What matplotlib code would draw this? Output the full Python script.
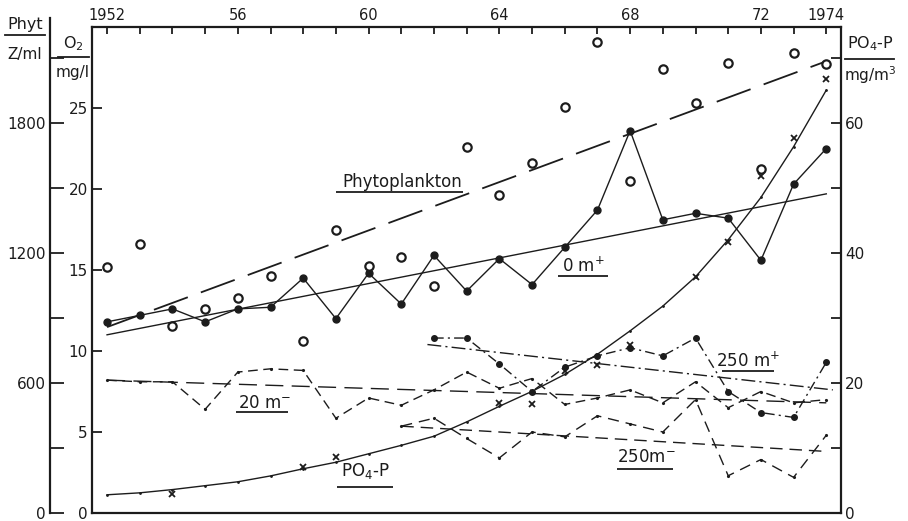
import numpy as np
import matplotlib.pyplot as plt
from matplotlib.lines import Line2D

plt.rcParams['font.family'] = ['DejaVu Sans']
plt.rcParams['mathtext.fontset'] = 'dejavusans'
plt.rcParams['mathtext.default'] = 'regular'
plt.rcParams['lines.scale_dashes'] = False

INK = '#1c1c1c'
W, H = 908, 521

# values
years = list(range(1952, 1975))

# phytoplankton, Z/ml (open circles + dashed trend)
phyt = [1135, 1241, 863, 942, 992, 1094, 794, 1306, 1140, 1182, 1048, 1689,
        1468, 1615, 1874, 2174, 1532, 2049, 1892, 2077, 1588, 2123, 2072]
phyt_trend_years = [1952, 1974]
phyt_trend = [858, 2085]

# O2 at 0 m, mg/l
o2_0m = [11.8, 12.2, 12.6, 11.8, 12.6, 12.7, 14.5, 12.0, 14.8, 12.9, 15.9, 13.7,
         15.7, 14.1, 16.4, 18.7, 23.6, 18.1, 18.5, 18.2, 15.6, 20.3, 22.5]
o2_0m_trend_years = [1952, 1974]
o2_0m_trend = [11.0, 19.7]

# O2 at 20 m
o2_20m = [8.2, 8.1, 8.1, 6.4, 8.7, 8.9, 8.8, 5.85, 7.1, 6.65, 7.6, 8.7,
          7.7, 8.3, 6.7, 7.1, 7.6, 6.8, 8.1, 6.5, 7.5, 6.8, 7.0]
o2_20m_trend_years = [1952, 1974]
o2_20m_trend = [8.2, 6.8]

# O2 at 250 m (minus)
years_250m_minus = list(range(1961, 1975))
o2_250m_minus = [5.36, 5.85, 4.6, 3.4, 5.0, 4.7, 6.0, 5.5, 5.0, 7.0, 2.3, 3.3, 2.2, 4.8]
o2_250m_minus_trend_years = [1961, 1974]
o2_250m_minus_trend = [5.36, 3.8]

# O2 at 250 m (plus)
years_250m_plus = list(range(1962, 1975))
o2_250m_plus = [10.8, 10.8, 9.2, 7.5, 9.0, 9.7, 10.2, 9.7, 10.8, 7.5, 6.2, 5.9, 9.3]
o2_250m_plus_trend_years = [1961.8, 1974.2]
o2_250m_plus_trend = [10.4, 7.6]

# PO4-P, mg/m3 (crosses + smooth curve)
po4_years = [1954, 1958, 1959, 1964, 1965, 1966, 1967, 1968, 1970, 1971, 1972, 1973, 1974]
po4 = [2.9, 7.1, 8.6, 16.9, 16.7, 21.9, 22.8, 25.8, 36.3, 41.7, 51.8, 57.7, 66.7]
po4_curve = [2.8, 3.1, 3.6, 4.2, 4.8, 5.7, 6.8, 7.8, 9.1, 10.4, 11.8, 14.0,
             16.4, 18.7, 21.3, 24.4, 28.0, 31.8, 36.3, 42.0, 48.5, 56.3, 65.0]

top_labels = {1952: '1952', 1956: '56', 1960: '60', 1964: '64',
              1968: '68', 1972: '72', 1974: '1974'}
o2_ticks = [0, 5, 10, 15, 20, 25]
phyt_ticks = [0, 300, 600, 900, 1200, 1500, 1800, 2100]
phyt_labels = ['0', '', '600', '', '1200', '', '1800', '']
po4_ticks = [0, 10, 20, 30, 40, 50, 60, 70]
po4_labels = ['0', '', '20', '', '40', '', '60', '']


def px(x, y):
    return x / W, 1 - y / H


fig = plt.figure(figsize=(W / 100, H / 100), dpi=100)
fig.patch.set_facecolor('white')
ax = fig.add_axes([92 / W, 8 / H, 749 / W, 486 / H])
ax.set_xlim(1951.54, 1974.45)
ax.set_ylim(0, 30)

ax_po4 = ax.twinx()
ax_po4.set_ylim(0, 74.7)
ax_ph = ax.twinx()
ax_ph.set_ylim(0, 2243)

for a in (ax, ax_po4, ax_ph):
    for s in a.spines.values():
        s.set_linewidth(1.6)
        s.set_color(INK)

# top year axis
ax.xaxis.tick_top()
ax.set_xticks(years)
ax.set_xticklabels([top_labels.get(y, '') for y in years])
ax.tick_params(axis='x', direction='in', length=5, width=1.3, pad=3,
               labelsize=10.5, colors=INK)

# O2 axis
ax.set_yticks(o2_ticks)
ax.tick_params(axis='y', direction='in', length=7, width=1.3, pad=3,
               labelsize=11, colors=INK)
ax.spines['right'].set_visible(False)

# PO4 axis on the right
ax_po4.set_yticks(po4_ticks)
ax_po4.set_yticklabels(po4_labels)
ax_po4.tick_params(axis='y', direction='in', length=7, width=1.3, pad=3,
                   labelsize=11, colors=INK)
for s in ('left', 'top', 'bottom'):
    ax_po4.spines[s].set_visible(False)

# Phyt axis, detached on the far left
ax_ph.yaxis.tick_left()
ax_ph.spines['left'].set_position(('outward', 42 * 0.72))
ax_ph.spines['left'].set_bounds(0, 2285)
for s in ('right', 'top', 'bottom'):
    ax_ph.spines[s].set_visible(False)
ax_ph.set_yticks(phyt_ticks)
ax_ph.set_yticklabels(phyt_labels)
ax_ph.tick_params(axis='y', direction='in', length=10, width=1.3, pad=3,
                  labelsize=11, colors=INK)

lw = 1.0
# phytoplankton
ax_ph.plot(phyt_trend_years, phyt_trend, color=INK, lw=1.3, dashes=(26, 10))
ax_ph.plot(years, phyt, ls='none', marker='o', ms=6, mfc='white', mec=INK, mew=1.6)

# O2 0 m
ax.plot(o2_0m_trend_years, o2_0m_trend, color=INK, lw=lw)
ax.plot(years, o2_0m, color=INK, lw=lw, marker='o', ms=5, mfc=INK, mec=INK)

# O2 20 m
ax.plot(o2_20m_trend_years, o2_20m_trend, color=INK, lw=lw, dashes=(13, 6))
ax.plot(years, o2_20m, color=INK, lw=lw, dashes=(7, 4), marker='.', ms=2.5)

# O2 250 m minus
ax.plot(o2_250m_minus_trend_years, o2_250m_minus_trend, color=INK, lw=lw, dashes=(9, 5))
ax.plot(years_250m_minus, o2_250m_minus, color=INK, lw=lw, dashes=(8, 5), marker='.', ms=2.5)

# O2 250 m plus
ax.plot(o2_250m_plus_trend_years, o2_250m_plus_trend, color=INK, lw=lw, dashes=(10, 3, 1.5, 3))
ax.plot(years_250m_plus, o2_250m_plus, color=INK, lw=lw, dashes=(7, 3, 1.5, 3),
        marker='o', ms=4, mfc=INK, mec=INK)

# PO4-P
ax_po4.plot(years, po4_curve, color=INK, lw=lw, marker='.', ms=2)
ax_po4.plot(po4_years, po4, ls='none', marker='x', ms=5, mew=1.3, color=INK)


def underlined(text, x, y, x0, x1, yl, size=12):
    ax.text(x, y, text, ha='center', va='center', fontsize=size, color=INK)
    ax.plot([x0, x1], [yl, yl], color=INK, lw=1.3, solid_capstyle='butt')


underlined('Phytoplankton', 1961.03, 20.45, 1959.0, 1962.9, 19.8)
underlined('0 m$^{+}$', 1966.57, 15.25, 1965.8, 1967.33, 14.63)
underlined('20 m$^{-}$', 1956.83, 6.78, 1955.95, 1957.54, 6.23)
underlined('250 m$^{+}$', 1971.6, 9.37, 1970.8, 1972.4, 8.77)
underlined('250m$^{-}$', 1968.5, 3.45, 1967.6, 1969.3, 2.72)
underlined('PO$_4$-P', 1959.9, 2.6, 1959.04, 1960.75, 1.6)
ax.set_xlim(1951.54, 1974.45)
ax.set_ylim(0, 30)


def axis_title(top, bottom, xc, yt, yb, yl, x0, x1):
    fig.text(*px(xc, yt), top, ha='center', va='center', fontsize=11.5, color=INK)
    fig.text(*px(xc, yb), bottom, ha='center', va='center', fontsize=11, color=INK)
    fig.add_artist(Line2D([x0 / W, x1 / W], [1 - yl / H] * 2,
                          transform=fig.transFigure, color=INK, lw=1.3))


axis_title('Phyt', 'Z/ml', 25, 24, 55, 35, 5, 45)
axis_title('O$_2$', 'mg/l', 73, 44, 72, 57, 58, 89)
axis_title('PO$_4$-P', 'mg/m$^3$', 870, 44, 75, 59, 845, 894)

fig.savefig('out.png', dpi=100, facecolor='white')
